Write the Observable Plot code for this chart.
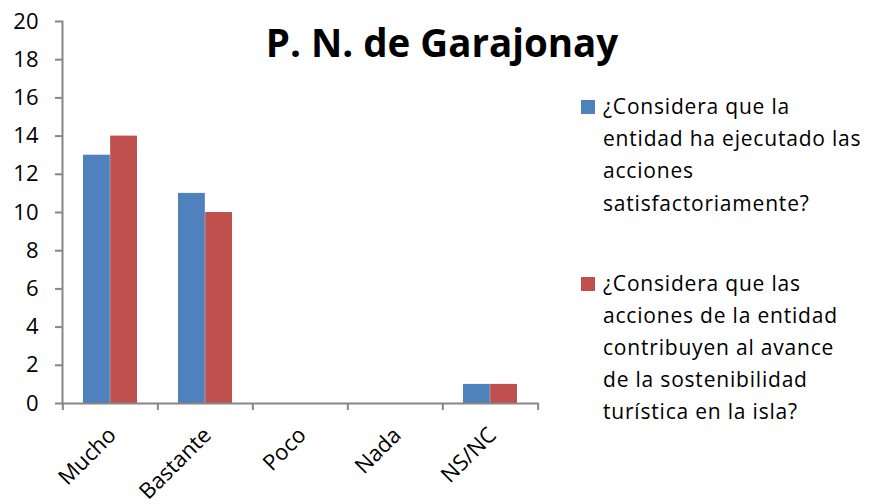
<!DOCTYPE html>
<html><head><meta charset="utf-8">
<script src="https://cdn.jsdelivr.net/npm/d3@7"></script>
<script src="https://cdn.jsdelivr.net/npm/@observablehq/plot@0.6"></script>
<style>
body{margin:0;background:#fff;}
#wrap{position:relative;width:871px;height:504px;font-family:"Open Sans",sans-serif;color:#000;overflow:hidden;}
#wrap svg{position:absolute;left:0;top:0;}
#title{position:absolute;left:242px;width:400px;top:23px;text-align:center;font-weight:700;font-size:38.5px;line-height:39px;white-space:nowrap;}
.leg{position:absolute;left:581px;display:flex;align-items:flex-start;}
.sw{width:14px;height:14px;margin-top:10px;margin-right:8px;flex:none;}
.lt{font-size:21px;line-height:32.2px;letter-spacing:0.8px;white-space:pre;}
</style></head><body>
<div id="wrap"></div>
<script>
const title = "P. N. de Garajonay";
const categories = ["Mucho", "Bastante", "Poco", "Nada", "NS/NC"];
const seriesNames = [
  "¿Considera que la entidad ha ejecutado las acciones satisfactoriamente?",
  "¿Considera que las acciones de la entidad contribuyen al avance de la sostenibilidad turística en la isla?"
];
const legendLines = [
  ["¿Considera que la", "entidad ha ejecutado las", "acciones", "satisfactoriamente?"],
  ["¿Considera que las", "acciones de la entidad", "contribuyen al avance", "de la sostenibilidad", "turística en la isla?"]
];
const ejecutado = [13, 11, 0, 0, 1];
const contribuyen = [14, 10, 0, 0, 1];
const yTicks = [0, 2, 4, 6, 8, 10, 12, 14, 16, 18, 20];
const colors = ["#4F81BD", "#C0504D"];

const rows = [];
categories.forEach((c, i) => {
  rows.push({category: c, series: seriesNames[0], value: ejecutado[i]});
  rows.push({category: c, series: seriesNames[1], value: contribuyen[i]});
});

const W = 871, H = 504, mL = 62, mR = 332.5, mT = 21, mB = 101;
const step = (W - mL - mR) / categories.length;
const padIn = 0.43;
const half = step * (1 - padIn) / 2;
const gray = "#868686";

const chart = Plot.plot({
  width: W, height: H,
  marginLeft: mL, marginRight: mR, marginTop: mT, marginBottom: mB,
  style: {fontFamily: "'Open Sans', sans-serif", color: "#000", background: "transparent"},
  x: {domain: categories, paddingInner: padIn, paddingOuter: padIn / 2},
  y: {domain: [0, 20]},
  marks: [
    Plot.barY(rows.filter(d => d.series === seriesNames[0]), {x: "category", y: "value", fill: colors[0], insetRight: half}),
    Plot.barY(rows.filter(d => d.series === seriesNames[1]), {x: "category", y: "value", fill: colors[1], insetLeft: half}),
    Plot.ruleY([0], {stroke: gray, strokeWidth: 2}),
    Plot.frame({anchor: "left", stroke: gray, strokeWidth: 2}),
    Plot.axisY({ticks: yTicks, tickSize: 7, tickPadding: 17, fontSize: 22, stroke: gray, strokeWidth: 2, label: null}),
    Plot.axisX({ticks: categories, tickSize: 7, tickFormat: () => "", dx: -step / 2, stroke: gray, strokeWidth: 2, label: null}),
    Plot.axisX({ticks: [categories[categories.length - 1]], tickSize: 7, tickFormat: () => "", dx: step / 2, stroke: gray, strokeWidth: 2, label: null}),
    Plot.axisX({ticks: categories, tickSize: 0, tickPadding: 28, dx: 2, tickRotate: -45, fontSize: 22, label: null})
  ]
});

const wrap = document.getElementById("wrap");
wrap.appendChild(chart);

const t = document.createElement("div");
t.id = "title";
t.textContent = title;
wrap.appendChild(t);

const tops = [90, 266.5];
legendLines.forEach((lines, i) => {
  const e = document.createElement("div");
  e.className = "leg";
  e.style.top = tops[i] + "px";
  const sw = document.createElement("div");
  sw.className = "sw";
  sw.style.background = colors[i];
  const lt = document.createElement("div");
  lt.className = "lt";
  lt.textContent = lines.join("\n");
  e.appendChild(sw);
  e.appendChild(lt);
  wrap.appendChild(e);
});
</script>
</body></html>
